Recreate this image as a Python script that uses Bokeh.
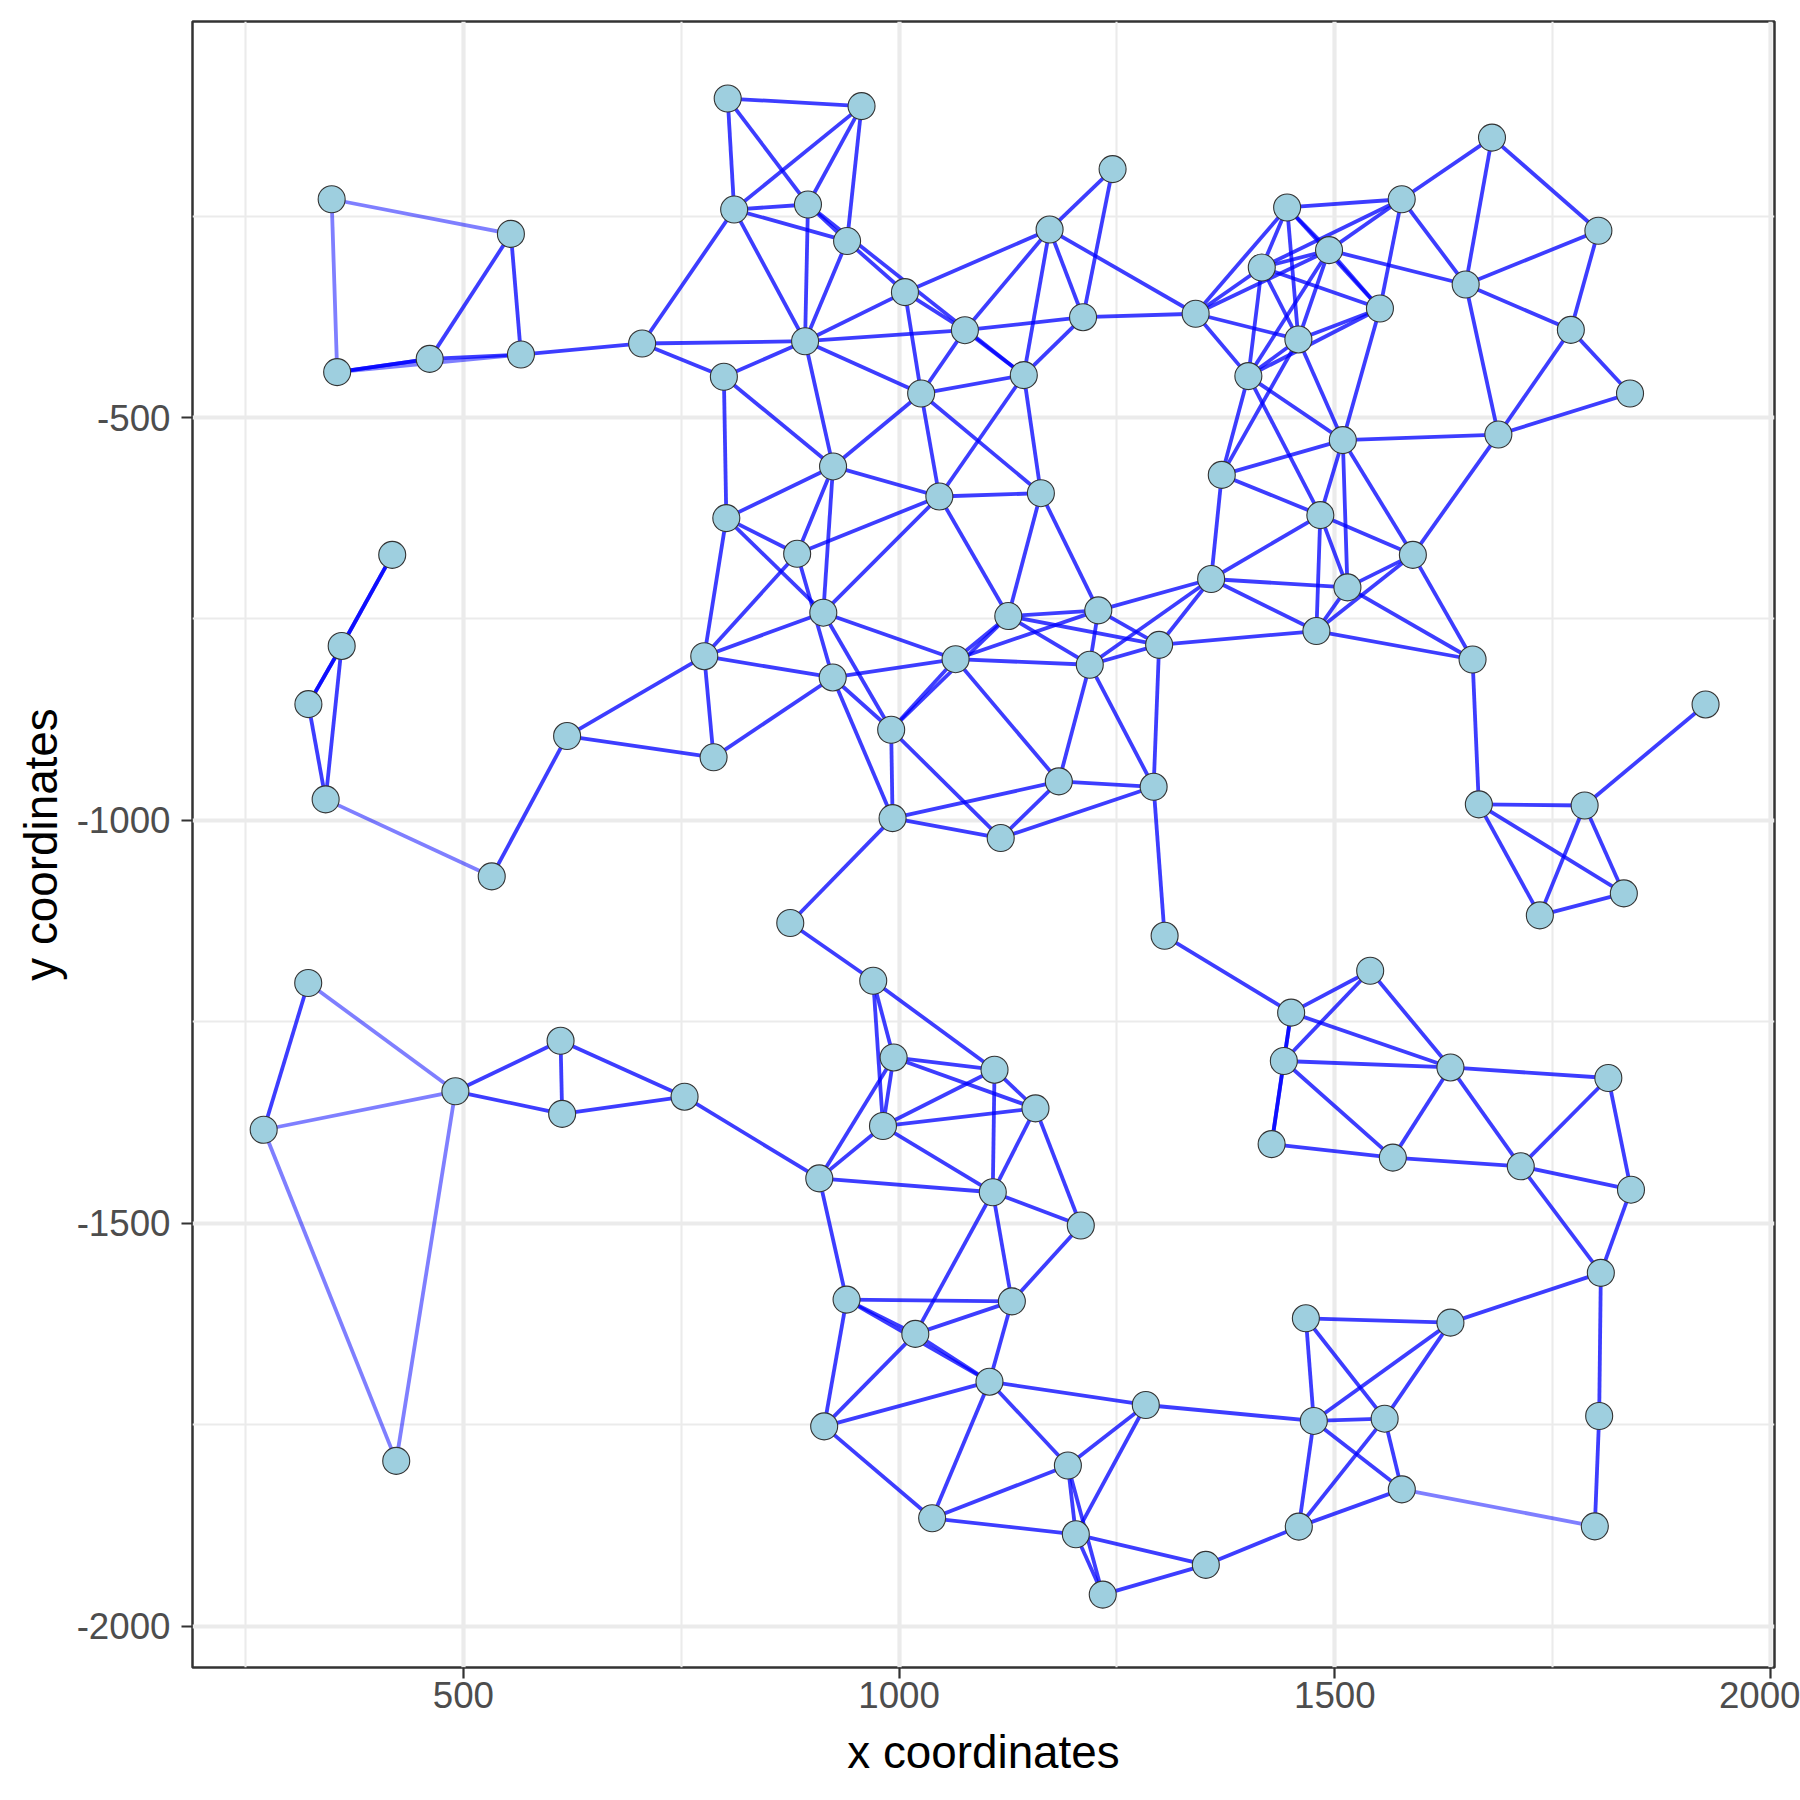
from bokeh.plotting import figure
from bokeh.models import Range1d, FixedTicker, ColumnDataSource
from bokeh.embed import file_html
from bokeh.resources import INLINE

# node coordinates (ids 1..118 -> index 0..117)
node_x = [348.8, 554.5, 355.1, 461.3, 566.0, 705.1, 803.3, 956.9, 810.7, 895.4,
          892.1, 940.3, 798.9, 1006.7, 1075.5, 1025.3, 1143.1, 1172.7, 1245.0, 1211.1,
          924.2, 1046.2, 1162.7, 801.7, 883.0, 913.0, 776.4, 923.8, 1064.8, 1125.3,
          1228.6, 1218.8, 1298.4, 990.9, 787.1, 619.0, 992.5, 1183.3, 1292.1, 1116.6,
          532.5, 418.3, 360.3, 322.1, 341.9, 1340.3, 1445.3, 1416.2, 1493.4, 1576.8,
          1551.8, 1458.2, 1400.8, 1650.2, 1680.4, 1802.5, 1770.9, 1838.8, 1687.7, 1509.2,
          1370.3, 1483.4, 1589.6, 1358.1, 1514.5, 1478.9, 1658.1, 1925.5, 1665.3, 1786.7,
          1735.3, 1831.7, 875.1, 1304.7, 321.9, 270.8, 490.8, 611.5, 613.3, 753.8,
          422.9, 970.3, 993.7, 1109.5, 981.5, 1156.5, 908.4, 1107.5, 1208.5, 939.7,
          1129.4, 1018.6, 1103.7, 914.0, 1283.1, 1193.7, 1037.9, 1202.8, 1233.7, 1352.0,
          1449.9, 1540.6, 1441.5, 1632.7, 1427.5, 1566.6, 1813.9, 1713.4, 1839.9, 1805.3,
          1466.8, 1632.7, 1475.9, 1557.2, 1576.9, 1803.4, 1458.7, 1798.4]
node_y = [-229.1, -272.1, -443.6, -427.2, -421.8, -408.1, -104.1, -113.5, -241.9, -235.6,
          -405.3, -281.0, -449.4, -344.4, -391.6, -470.2, -447.4, -266.7, -191.7, -375.5,
          -560.7, -598.0, -593.9, -624.8, -669.1, -742.2, -796.2, -822.6, -799.9, -746.4,
          -739.3, -806.8, -782.1, -887.5, -921.7, -895.3, -997.2, -951.6, -958.3, -1021.9,
          -1069.5, -670.4, -783.5, -855.7, -973.9, -371.2, -239.3, -313.8, -292.3, -229.1,
          -364.7, -403.1, -448.6, -334.9, -152.6, -268.2, -391.2, -470.2, -521.1, -528.1,
          -571.2, -621.1, -670.4, -700.4, -710.8, -765.0, -800.3, -856.1, -980.1, -981.5,
          -1117.9, -1090.6, -1127.3, -1143.2, -1201.8, -1383.9, -1336.2, -1273.5, -1364.2, -1342.9,
          -1794.9, -1199.0, -1294.2, -1309.4, -1379.3, -1357.4, -1444.3, -1461.5, -1502.8, -1594.7,
          -1596.9, -1637.3, -1696.6, -1752.0, -1725.5, -1800.6, -1866.1, -1886.0, -1960.8, -1923.9,
          -1238.6, -1186.6, -1298.6, -1306.6, -1401.7, -1418.5, -1319.7, -1429.3, -1458.3, -1561.5,
          -1617.9, -1623.3, -1745.3, -1742.5, -1830.2, -1739.2, -1876.5, -1876.1]

# network edges (node id pairs); repeated pairs are overlapping edges
edges = [
    (1, 2), (1, 3), (2, 4), (2, 5), (3, 4), (3, 4), (4, 5), (3, 5), (5, 6), (6, 9), (6, 11), (6, 13),
    (7, 8), (7, 9), (7, 10), (8, 9), (8, 10), (8, 12), (9, 10), (9, 12), (9, 11), (10, 11), (10, 12),
    (12, 14), (14, 15), (15, 17), (10, 17),
    (11, 12), (11, 14), (11, 15), (11, 16), (11, 13), (11, 21), (13, 21), (13, 24), (14, 16), (14, 18),
    (15, 18), (15, 20), (15, 16), (16, 17), (16, 21), (16, 22), (16, 23), (17, 22), (17, 23), (17, 20),
    (17, 18), (18, 19), (18, 20), (18, 46), (19, 20), (20, 46),
    (46, 47), (46, 48), (46, 49), (46, 52), (46, 53),
    (47, 50), (50, 55), (55, 56), (55, 54), (54, 59), (56, 54), (56, 57), (57, 58), (57, 54), (57, 59),
    (58, 59), (59, 60), (59, 63),
    (50, 51), (50, 54), (50, 49), (50, 48), (47, 49), (49, 51), (47, 51), (47, 48), (47, 52), (48, 49),
    (48, 51), (48, 53), (48, 52), (49, 54), (49, 53), (49, 52), (52, 51), (53, 51), (52, 53), (52, 61),
    (52, 60), (53, 60), (53, 61), (53, 62), (60, 61), (60, 65), (60, 51), (60, 62), (60, 63),
    (61, 62), (61, 64), (62, 63), (62, 64), (62, 65), (62, 66), (64, 65), (64, 66), (63, 65), (63, 66),
    (63, 67), (65, 67), (66, 67), (66, 33), (65, 66), (67, 69), (69, 70), (70, 68), (69, 71), (69, 72),
    (70, 71), (70, 72), (71, 72),
    (21, 24), (21, 22), (21, 25), (21, 26), (24, 25), (24, 26), (24, 27), (25, 22), (25, 27), (25, 28),
    (22, 23), (22, 26), (22, 30), (23, 30), (23, 31), (26, 27), (26, 29), (26, 34), (27, 28), (27, 35),
    (28, 29), (28, 35), (28, 34), (28, 37), (29, 30), (29, 34), (30, 34), (29, 31), (29, 32), (29, 38),
    (30, 31), (30, 32), (30, 33), (31, 32), (31, 33), (31, 64), (32, 33), (32, 64), (33, 64), (32, 38),
    (32, 39), (33, 39), (34, 37), (34, 40), (37, 38), (37, 40), (38, 39), (38, 40), (39, 40), (37, 73),
    (39, 74),
    (42, 43), (42, 43), (43, 44), (43, 44), (43, 45), (44, 45), (45, 41), (36, 27), (36, 35), (36, 41),
    (75, 76), (75, 77), (76, 77), (76, 81), (77, 81), (77, 78), (77, 79), (78, 79), (78, 80), (79, 80),
    (80, 87),
    (73, 82), (82, 83), (82, 85), (82, 84), (83, 84), (83, 86), (83, 85), (83, 87), (84, 85), (84, 86),
    (84, 88), (85, 86), (85, 87), (85, 88), (86, 88), (86, 89), (87, 88), (88, 89), (87, 90), (88, 92),
    (88, 91), (89, 91), (74, 101),
    (90, 91), (90, 92), (92, 93), (90, 93), (90, 94), (91, 92), (91, 93), (92, 94), (93, 94), (93, 95),
    (93, 96), (93, 97), (94, 97), (96, 95), (96, 97), (96, 98), (96, 99), (95, 98), (97, 98), (98, 99),
    (98, 100), (99, 100), (95, 113), (100, 117),
    (101, 102), (101, 103), (103, 105), (101, 105), (101, 104), (102, 103), (102, 104), (103, 104),
    (103, 106), (105, 106), (104, 106), (104, 107), (104, 108), (106, 108), (107, 108), (107, 109),
    (108, 109), (108, 110), (109, 110),
    (110, 112), (110, 116), (111, 112), (111, 113), (111, 114), (112, 113), (112, 114), (113, 114),
    (113, 115), (113, 117), (114, 115), (114, 117), (115, 117), (115, 118), (116, 118),
]
# long edges drawn fainter
light_edges = [(1, 2), (1, 3), (3, 5), (45, 41), (75, 77), (76, 77), (76, 81), (77, 81), (115, 118)]

x_ticks = [500, 1000, 1500, 2000]
x_tick_labels = ["500", "1000", "1500", "2000"]
x_minor = [250, 750, 1250, 1750]
y_ticks = [-500, -1000, -1500, -2000]
y_tick_labels = ["-500", "-1000", "-1500", "-2000"]
y_minor = [-250, -750, -1250, -1750]

x0 = [node_x[a - 1] for a, b in edges]
y0 = [node_y[a - 1] for a, b in edges]
x1 = [node_x[b - 1] for a, b in edges]
y1 = [node_y[b - 1] for a, b in edges]
alpha = [0.5 if (a, b) in light_edges else 0.76 for a, b in edges]

esrc = ColumnDataSource(dict(x0=x0, y0=y0, x1=x1, y1=y1, alpha=alpha))
nsrc = ColumnDataSource(dict(x=node_x, y=node_y))

p = figure(width=1800, height=1784, output_backend="svg", toolbar_location=None,
           x_range=Range1d(189.1, 2004.6), y_range=Range1d(-2051.3, -8.5),
           min_border_left=192, min_border_right=26, min_border_top=21, min_border_bottom=117)
p.background_fill_color = "white"
p.border_fill_color = "white"
p.outline_line_color = "#333333"
p.outline_line_width = 2.5

xt = FixedTicker(ticks=x_ticks, minor_ticks=x_minor)
yt = FixedTicker(ticks=y_ticks, minor_ticks=y_minor)
p.xaxis.ticker = xt
p.yaxis.ticker = yt
p.xgrid.ticker = xt
p.ygrid.ticker = yt
p.xaxis.major_label_overrides = dict(zip(x_ticks, x_tick_labels))
p.yaxis.major_label_overrides = dict(zip(y_ticks, y_tick_labels))
for g in (p.xgrid, p.ygrid):
    g.grid_line_color = "#EBEBEB"
    g.grid_line_width = 4.2
    g.minor_grid_line_color = "#EBEBEB"
    g.minor_grid_line_width = 2.1

for ax in (p.xaxis, p.yaxis):
    ax.axis_line_color = None
    ax.major_tick_line_color = "#333333"
    ax.major_tick_line_width = 2.2
    ax.major_tick_in = 0
    ax.major_tick_out = 11
    ax.minor_tick_line_color = None
    ax.major_label_text_font = "Liberation Sans"
    ax.major_label_text_font_size = "36.7px"
    ax.major_label_text_color = "#4D4D4D"
    ax.axis_label_text_font = "Liberation Sans"
    ax.axis_label_text_font_size = "45.8px"
    ax.axis_label_text_font_style = "normal"
    ax.axis_label_text_color = "black"

p.xaxis.major_label_standoff = 3
p.xaxis.axis_label_standoff = 16
p.yaxis.major_label_standoff = 11
p.yaxis.axis_label_standoff = 7

p.xaxis.axis_label = "x coordinates"
p.yaxis.axis_label = "y coordinates"

p.segment(x0="x0", y0="y0", x1="x1", y1="y1", source=esrc, line_color="blue",
          line_alpha="alpha", line_width=3.8)
p.scatter(x="x", y="y", source=nsrc, size=27, fill_color="#9ECFDF", line_color="#333333",
          line_width=1.1)

open("out.html", "w").write(file_html(p, INLINE))
